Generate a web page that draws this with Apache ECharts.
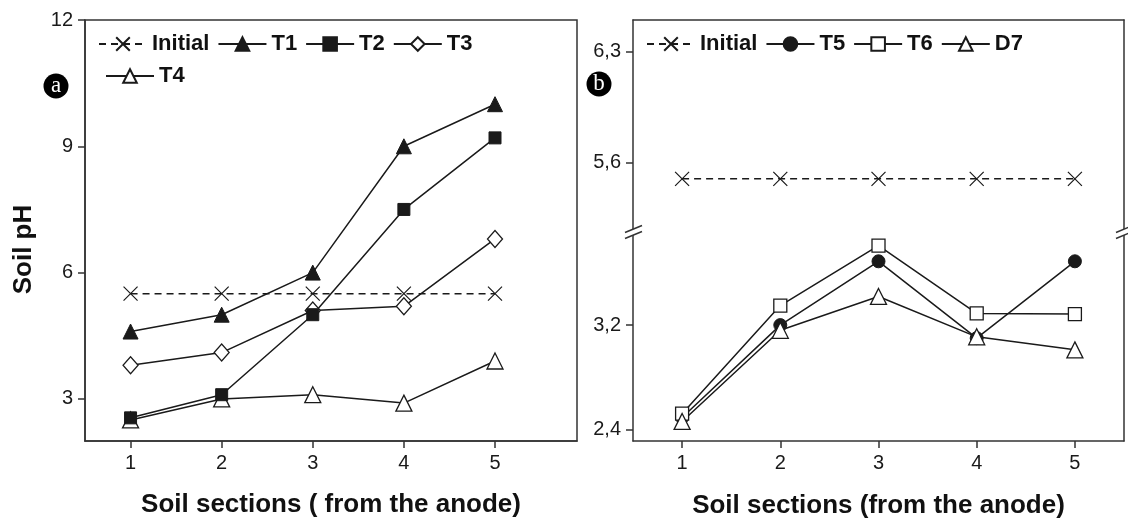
<!DOCTYPE html>
<html>
<head>
<meta charset="utf-8">
<script src="https://cdn.jsdelivr.net/npm/echarts@6/dist/echarts.min.js"></script>
<style>
html,body{margin:0;padding:0;background:#fff;}
#chart{width:1128px;height:523px;}
</style>
</head>
<body>
<div id="chart"></div>
<script>
// ---- data ----
const sections = [1, 2, 3, 4, 5];
const initialA = [5.5, 5.5, 5.5, 5.5, 5.5];
const t1 = [4.6, 5.0, 6.0, 9.0, 10.0];
const t2 = [2.55, 3.1, 5.0, 7.5, 9.2];
const t3 = [3.8, 4.1, 5.1, 5.2, 6.8];
const t4 = [2.5, 3.0, 3.1, 2.9, 3.9];
const initialB = [5.5, 5.5, 5.5, 5.5, 5.5];
const t5 = [2.49, 3.2, 3.69, 3.1, 3.69];
const t6 = [2.52, 3.35, 3.81, 3.29, 3.285];
const d7 = [2.46, 3.16, 3.42, 3.11, 3.01];
const yTicksA = [3, 6, 9, 12];
const yTicksBUpper = [5.6, 6.3];
const yTicksBLower = [2.4, 3.2];
const xTitleA = 'Soil sections ( from the anode)';
const xTitleB = 'Soil sections (from the anode)';
const yTitle = 'Soil pH';

// ---- layout ----
const W = 1128, H = 523;
const gA = {left: 85, right: W - 577, top: 20, bottom: H - 442};
const breakY = 232;
const gBU = {left: 633, right: W - 1124, top: 20, height: breakY - 20};
const gBL = {left: 633, right: W - 1124, top: breakY, bottom: H - 441};

const INK = '#1a1a1a';
const AX = '#333';
const FONT = '"Liberation Sans", Arial, sans-serif';

const pairs = (ys) => sections.map((x, i) => [x, ys[i]]);
const crossPath = 'path://M0,0L10,10M10,0L0,10';

function lineSeries(name, ys, xi, yi, opt) {
  return Object.assign({
    type: 'line', name: name, data: pairs(ys),
    xAxisIndex: xi, yAxisIndex: yi,
    lineStyle: {color: INK, width: 1.5},
    emphasis: {disabled: true},
    animation: false
  }, opt);
}
const filled = {color: INK, borderColor: INK, borderWidth: 1};
const open = {color: '#fff', borderColor: INK, borderWidth: 1.3};
const crossStyle = {color: 'none', borderColor: INK, borderWidth: 1.2};
const dashed = {color: INK, width: 1.5, type: [7, 5]};

const axisLabelStyle = {color: '#1a1a1a', fontSize: 20, fontFamily: FONT};
const titleStyle = {color: '#111', fontSize: 26, fontWeight: 'bold', fontFamily: FONT};
const axisLine = {show: true, lineStyle: {color: AX, width: 1.5}};
const comma = (v) => v.toFixed(1).replace('.', ',');

const legendText = {color: '#111', fontSize: 22, fontWeight: 'bold', fontFamily: FONT};
const legendBase = {itemWidth: 48, itemHeight: 17, itemGap: 8, padding: 0, textStyle: legendText,
  selectedMode: false, orient: 'horizontal'};

const option = {
  backgroundColor: '#fff',
  animation: false,
  grid: [
    Object.assign({show: true, borderColor: AX, borderWidth: 1.5, backgroundColor: 'transparent'}, gA),
    gBU, gBL
  ],
  legend: [
    Object.assign({}, legendBase, {left: 98, top: 33, data: ['Initial', 'T1', 'T2', 'T3']}),
    Object.assign({}, legendBase, {left: 105, top: 65, data: ['T4']}),
    Object.assign({}, legendBase, {left: 646, top: 33, data: ['Initial', 'T5', 'T6', 'D7']})
  ],
  xAxis: [
    {gridIndex: 0, type: 'value', min: 0.5, max: 5.9,
     axisLine: axisLine, splitLine: {show: false},
     axisTick: {show: true, length: 7, customValues: sections, lineStyle: {color: AX, width: 1.5}},
     axisLabel: Object.assign({customValues: sections, margin: 12}, axisLabelStyle),
     name: xTitleA, nameLocation: 'middle', nameGap: 51, nameTextStyle: titleStyle},
    {gridIndex: 1, type: 'value', min: 0.5, max: 5.5, position: 'top',
     axisLine: axisLine, axisTick: {show: false}, axisLabel: {show: false}, splitLine: {show: false}},
    {gridIndex: 2, type: 'value', min: 0.5, max: 5.5,
     axisLine: axisLine, splitLine: {show: false},
     axisTick: {show: true, length: 7, customValues: sections, lineStyle: {color: AX, width: 1.5}},
     axisLabel: Object.assign({customValues: sections, margin: 12}, axisLabelStyle),
     name: xTitleB, nameLocation: 'middle', nameGap: 52, nameTextStyle: titleStyle}
  ],
  yAxis: [
    {gridIndex: 0, type: 'value', min: 2, max: 12,
     axisLine: axisLine, splitLine: {show: false},
     axisTick: {show: true, length: 7, customValues: yTicksA, lineStyle: {color: AX, width: 1.5}},
     axisLabel: Object.assign({customValues: yTicksA, margin: 12}, axisLabelStyle),
     name: yTitle, nameLocation: 'middle', nameGap: 48, nameRotate: 90,
     nameTextStyle: Object.assign({padding: [0, 38, 0, 0]}, titleStyle)},
    {gridIndex: 1, type: 'value', min: 5.165, max: 6.5,
     axisLine: axisLine, splitLine: {show: false},
     axisTick: {show: true, length: 7, customValues: yTicksBUpper, lineStyle: {color: AX, width: 1.5}},
     axisLabel: Object.assign({customValues: yTicksBUpper, margin: 12, formatter: comma}, axisLabelStyle)},
    {gridIndex: 2, type: 'value', min: 2.31, max: 3.915,
     axisLine: axisLine, splitLine: {show: false},
     axisTick: {show: true, length: 7, customValues: yTicksBLower, lineStyle: {color: AX, width: 1.5}},
     axisLabel: Object.assign({customValues: yTicksBLower, margin: 12, formatter: comma}, axisLabelStyle)},
    {gridIndex: 1, type: 'value', min: 5.165, max: 6.5, position: 'right',
     axisLine: axisLine, axisTick: {show: false}, axisLabel: {show: false}, splitLine: {show: false}},
    {gridIndex: 2, type: 'value', min: 2.31, max: 3.915, position: 'right',
     axisLine: axisLine, axisTick: {show: false}, axisLabel: {show: false}, splitLine: {show: false}}
  ],
  series: [
    lineSeries('Initial', initialA, 0, 0, {symbol: crossPath, symbolSize: 14, itemStyle: crossStyle, lineStyle: dashed}),
    lineSeries('T4', t4, 0, 0, {symbol: 'triangle', symbolSize: 16, itemStyle: open}),
    lineSeries('T3', t3, 0, 0, {symbol: 'diamond', symbolSize: [15, 17], itemStyle: open}),
    lineSeries('T1', t1, 0, 0, {symbol: 'triangle', symbolSize: 15, itemStyle: filled}),
    lineSeries('T2', t2, 0, 0, {symbol: 'rect', symbolSize: 12, itemStyle: filled}),
    lineSeries('Initial', initialB, 1, 1, {symbol: crossPath, symbolSize: 14, itemStyle: crossStyle, lineStyle: dashed}),
    lineSeries('T5', t5, 2, 2, {symbol: 'circle', symbolSize: 13, itemStyle: filled}),
    lineSeries('T6', t6, 2, 2, {symbol: 'rect', symbolSize: 13, itemStyle: open}),
    lineSeries('D7', d7, 2, 2, {symbol: 'triangle', symbolSize: 16, itemStyle: open})
  ],
  graphic: []
};

// break marks and panel badges (decoration)
function breakMark(x, y) {
  return [
    {type: 'rect', shape: {x: x - 4, y: y - 3, width: 8, height: 6}, style: {fill: '#fff'}, z: 100},
    {type: 'line', shape: {x1: x - 8, y1: y + 0.5, x2: x + 9, y2: y - 6.5}, style: {stroke: AX, lineWidth: 1.5}, z: 101},
    {type: 'line', shape: {x1: x - 8, y1: y + 6.5, x2: x + 9, y2: y - 0.5}, style: {stroke: AX, lineWidth: 1.5}, z: 101}
  ];
}
function badge(x, y, letter) {
  return [
    {type: 'circle', shape: {cx: x, cy: y, r: 12.5}, style: {fill: '#000'}, z: 100},
    {type: 'text', x: x, y: y, style: {text: letter, fill: '#fff', fontSize: 23,
      fontFamily: '"Liberation Serif", "DejaVu Serif", serif', align: 'center', verticalAlign: 'middle'}, z: 101}
  ];
}
option.graphic = [].concat(
  breakMark(633, breakY), breakMark(1124, breakY),
  badge(56, 86, 'a'), badge(599, 84, 'b')
);

const chart = echarts.init(document.getElementById('chart'), null, {renderer: 'canvas'});
chart.setOption(option);
</script>
</body>
</html>
